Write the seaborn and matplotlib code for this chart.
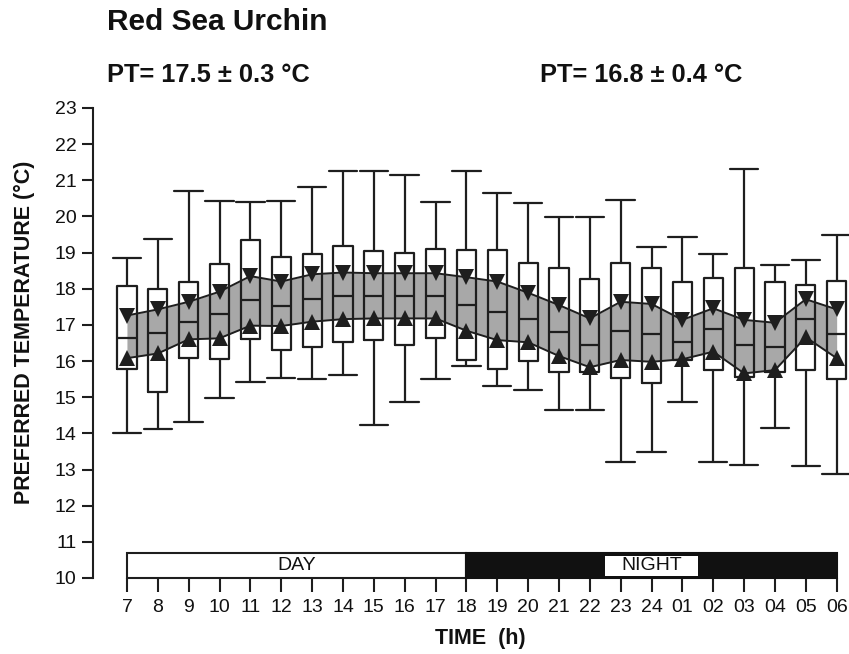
import numpy as np
import pandas as pd
import matplotlib
matplotlib.use("Agg")
import matplotlib.pyplot as plt
from matplotlib.patches import Rectangle
import seaborn as sns

# hourly categories (07:00 -> 06:00)
hours = ['7', '8', '9', '10', '11', '12', '13', '14', '15', '16', '17', '18',
         '19', '20', '21', '22', '23', '24', '01', '02', '03', '04', '05', '06']

# box statistics (deg C)
whisker_hi = [18.86, 19.38, 20.71, 20.44, 20.39, 20.43, 20.82, 21.27, 21.27, 21.15, 20.41, 21.27,
              20.66, 20.36, 19.98, 19.98, 20.45, 19.16, 19.42, 18.97, 21.31, 18.66, 18.79, 19.50]
q3 = [18.09, 17.99, 18.18, 18.69, 19.36, 18.88, 18.95, 19.17, 19.05, 18.98, 19.09, 19.07,
      19.07, 18.71, 18.58, 18.27, 18.70, 18.57, 18.20, 18.29, 18.57, 18.18, 18.11, 18.22]
median = [16.64, 16.79, 17.08, 17.29, 17.68, 17.53, 17.72, 17.79, 17.81, 17.81, 17.81, 17.55,
          17.35, 17.16, 16.80, 16.45, 16.84, 16.75, 16.54, 16.88, 16.45, 16.38, 17.16, 16.74]
q1 = [15.77, 15.14, 16.08, 16.05, 16.60, 16.31, 16.38, 16.54, 16.58, 16.45, 16.63, 16.03,
      15.77, 16.00, 15.71, 15.71, 15.52, 15.39, 16.03, 15.74, 15.57, 15.71, 15.74, 15.50]
whisker_lo = [14.02, 14.12, 14.32, 14.99, 15.43, 15.52, 15.50, 15.62, 14.23, 14.87, 15.50, 15.87,
              15.31, 15.20, 14.65, 14.65, 13.22, 13.49, 14.88, 13.20, 13.13, 14.14, 13.09, 12.89]

# shaded band (upper = down triangles, lower = up triangles)
band_upper = [17.26, 17.43, 17.64, 17.92, 18.35, 18.20, 18.40, 18.45, 18.43, 18.43, 18.43, 18.32,
              18.20, 17.89, 17.55, 17.18, 17.64, 17.58, 17.14, 17.46, 17.14, 17.06, 17.71, 17.43]
band_lower = [16.08, 16.21, 16.60, 16.63, 16.98, 16.97, 17.09, 17.16, 17.18, 17.18, 17.18, 16.84,
              16.58, 16.52, 16.14, 15.83, 16.03, 15.98, 16.05, 16.26, 15.66, 15.75, 16.66, 16.08]

night_start = '18'
night_label_hour = '24'

sns.set_theme(style="white")
plt.rcParams['font.family'] = ['Liberation Sans', 'DejaVu Sans']

# five values per hour -> min, q1, median, q3, max reproduce the box exactly
rows = []
for i, h in enumerate(hours):
    for v in (whisker_lo[i], q1[i], median[i], q3[i], whisker_hi[i]):
        rows.append({'hour': h, 'temp': v})
df = pd.DataFrame(rows)

fig = plt.figure(figsize=(8.49, 6.54), dpi=100)
ax = fig.add_axes([93 / 849, 1 - 578 / 654, 756 / 849, 470 / 654])

dark = '#1e1e1e'
x = np.arange(len(hours))
ax.fill_between(x, band_lower, band_upper, color='#a8a8a8', lw=0, zorder=1)

sns.boxplot(data=df, x='hour', y='temp', order=hours, whis=(0, 100), fill=False,
            width=0.62, color=dark, linecolor=dark, linewidth=1.6, capwidths=0.92,
            zorder=3, ax=ax)

band_df = pd.DataFrame({'hour': hours, 'upper': band_upper, 'lower': band_lower})
sns.lineplot(data=band_df, x='hour', y='upper', sort=False, color=dark, lw=1.4,
             marker='v', markersize=11, markeredgewidth=0, zorder=4, ax=ax)
sns.lineplot(data=band_df, x='hour', y='lower', sort=False, color=dark, lw=1.4,
             marker='^', markersize=11, markeredgewidth=0, zorder=4, ax=ax)

# day / night bar along the bottom
i_night = hours.index(night_start)
i_last = len(hours) - 1
bar_h = 0.68
ax.add_patch(Rectangle((0, 10), i_night, bar_h, facecolor='white', edgecolor=dark,
                       lw=1.5, zorder=5, clip_on=False))
ax.add_patch(Rectangle((i_night, 10), i_last - i_night, bar_h, facecolor='#111111',
                       edgecolor='#111111', lw=1.5, zorder=5, clip_on=False))
i_lab = hours.index(night_label_hour)
ax.add_patch(Rectangle((i_lab - 1.5, 10.06), 3.0, bar_h - 0.12, facecolor='white',
                       edgecolor='none', zorder=6, clip_on=False))
ax.text(i_night / 2, 10 + bar_h / 2, 'DAY', ha='center', va='center', fontsize=14,
        color='#111111', zorder=7)
ax.text(i_lab, 10 + bar_h / 2, 'NIGHT', ha='center', va='center', fontsize=14,
        color='#111111', zorder=7)

ax.set_xlim(-1.1, 23.4)
ax.set_ylim(10, 23)
ax.set_yticks(range(10, 24))
ax.set_xticks(x)
ax.set_xticklabels(hours)

for s in ['top', 'right', 'bottom']:
    ax.spines[s].set_visible(False)
ax.spines['left'].set_color(dark)
ax.spines['left'].set_linewidth(1.5)
ax.tick_params(axis='y', direction='out', length=8, width=1.5, color=dark,
               labelsize=14, left=True, pad=4, labelcolor='#111111')
ax.tick_params(axis='x', direction='out', length=10, width=1.5, color=dark,
               labelsize=14, bottom=True, pad=5, labelcolor='#111111')

ax.set_xlabel('TIME  (h)', fontsize=15.5, fontweight='bold', color='#111111')
ax.set_ylabel('PREFERRED TEMPERATURE (°C)', fontsize=15.5, fontweight='bold', color='#111111')
ax.xaxis.set_label_coords(0.512, -0.106)
ax.yaxis.set_label_coords(-0.077, 0.523)

fig.text(107 / 849, 1 - 22 / 654, 'Red Sea Urchin', fontsize=21.5, fontweight='bold',
         va='center', ha='left', color='#111111')
fig.text(107 / 849, 1 - 75 / 654, 'PT= 17.5 ± 0.3 °C', fontsize=18.3, fontweight='bold',
         va='center', ha='left', color='#111111')
fig.text(540 / 849, 1 - 75 / 654, 'PT= 16.8 ± 0.4 °C', fontsize=18.3, fontweight='bold',
         va='center', ha='left', color='#111111')

fig.savefig('out.png', dpi=100, facecolor='white')
